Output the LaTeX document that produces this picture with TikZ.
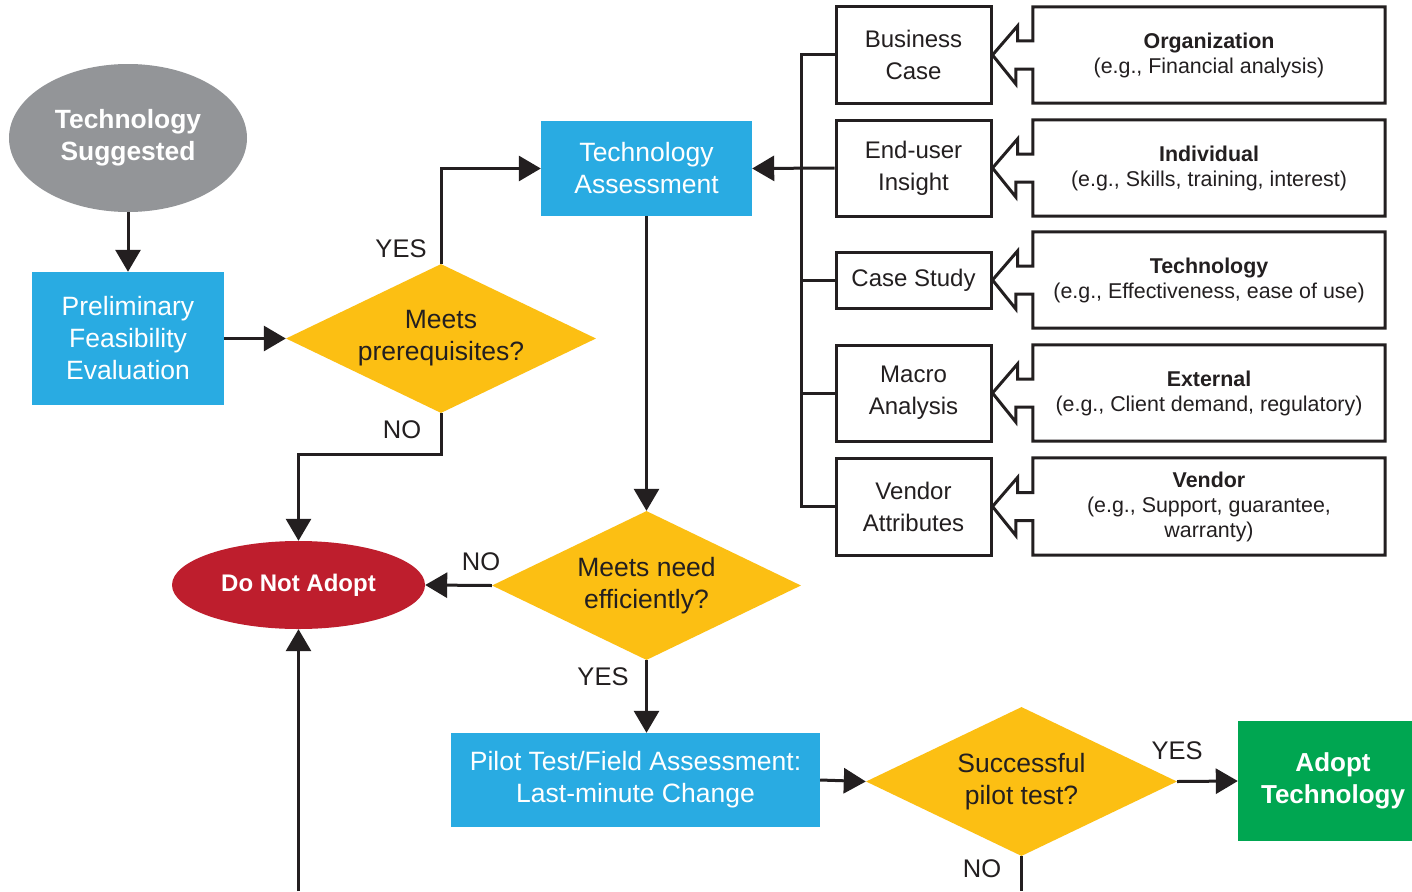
\documentclass[tikz,border=0pt]{standalone}
\usepackage{fontspec}
\setmainfont{Liberation Sans}
\usetikzlibrary{shapes.geometric,arrows.meta,calc}
\definecolor{tgray}{HTML}{939598}
\definecolor{tblue}{HTML}{29ABE2}
\definecolor{tyel}{HTML}{FCBF13}
\definecolor{tred}{HTML}{BE1E2D}
\definecolor{tgreen}{HTML}{00A651}
\definecolor{tdark}{HTML}{231F20}
\begin{document}
\begin{tikzpicture}[x=1pt,y=-1pt,
  bigfont/.style={font=\fontsize{26.5}{32}\selectfont},
  bluebox/.style={rectangle, fill=tblue, text=white, bigfont, align=center, inner sep=0pt},
  dia/.style={diamond, fill=tyel, text=tdark, bigfont, align=center, inner sep=0pt, minimum width=310pt, minimum height=149pt, shape aspect=2.08},
  sbox/.style={rectangle, draw=tdark, line width=3pt, text=tdark, align=center, inner sep=0pt, minimum width=155pt, minimum height=96pt, font=\fontsize{24}{32}\selectfont},
  rbox/.style={rectangle, text=tdark, align=center, inner sep=0pt, minimum width=352pt, minimum height=96pt, font=\fontsize{21.4}{25}\selectfont},
  outl/.style={draw=tdark, line width=3pt, line join=miter},
  conn/.style={draw=tdark, line width=3pt},
  arr/.style={conn, -{Triangle[length=22pt,width=25pt]}},
  lbl/.style={text=tdark, inner sep=0pt, font=\fontsize{25.5}{30}\selectfont}
]
\clip (0,0) rectangle (1412,891);
\fill[white] (0,0) rectangle (1412,891);

% left column
\node[ellipse, fill=tgray, text=white, inner sep=0pt, minimum width=238pt, minimum height=148pt, align=center, font=\bfseries\fontsize{26.4}{32}\selectfont] (ts) at (128,138) {Technology\\Suggested};
\node[bluebox, minimum width=192pt, minimum height=133pt] (pfe) at (128,338.5) {Preliminary\\Feasibility\\Evaluation};
\node[dia] (d1) at (441,338.5) {Meets\\prerequisites?};
\node[ellipse, fill=tred, text=white, inner sep=0pt, minimum width=253pt, minimum height=88pt, font=\bfseries\fontsize{24}{28}\selectfont] (dna) at (298.5,585) {Do Not Adopt};

% middle
\node[bluebox, minimum width=211pt, minimum height=95pt] (ta) at (646.5,168.5) {Technology\\Assessment};
\node[dia, minimum width=309pt] (d2) at (646.5,585.5) {Meets need\\efficiently?};
\node[bluebox, minimum width=369pt, minimum height=94pt] (pilot) at (635.5,780) {Pilot Test/Field Assessment:\\Last-minute Change};
\node[dia, minimum width=311pt] (d3) at (1021.5,781.5) {Successful\\pilot test?};
\node[rectangle, fill=tgreen, text=white, inner sep=0pt, minimum width=190pt, minimum height=120pt, align=center, font=\bfseries\fontsize{26}{32}\selectfont] (adopt) at (1333,781) {Adopt\\Technology};

% small boxes
\node[sbox] (bc) at (913.5,55) {Business\\Case};
\node[sbox] (eu) at (913.5,168) {End-user\\Insight};
\node[sbox, minimum height=56pt] (cs) at (913.5,280) {Case Study};
\node[sbox] (ma) at (913.5,393) {Macro\\Analysis};
\node[sbox, minimum height=97pt] (va) at (913.5,506.5) {Vendor\\Attributes};

% right boxes
\node[rbox] (org) at (1209,55) {\textbf{Organization}\\(e.g., Financial analysis)};
\node[rbox] (ind) at (1209,168) {\textbf{Individual}\\(e.g., Skills, training, interest)};
\node[rbox] (tec) at (1209,280) {\textbf{Technology}\\(e.g., Effectiveness, ease of use)};
\node[rbox] (ext) at (1209,393) {\textbf{External}\\(e.g., Client demand, regulatory)};
\node[rbox, minimum height=97pt] (ven) at (1209,506.5) {\textbf{Vendor}\\(e.g., Support, guarantee,\\warranty)};

% hollow arrow outlines
\foreach \r/\s in {org/bc, ind/eu, tec/cs, ext/ma, ven/va}{
  \draw[outl] ($(\r.west)+(0,-14)$) -- (\r.north west) -- (\r.north east) -- (\r.south east) -- (\r.south west) -- ($(\r.west)+(0,14)$) -- ++(-17,0) -- ++(0,15) -- (\s.east) -- ++(25,-29) -- ++(0,15) -- cycle;
}

% labels
\node[lbl] (yes1) at (401,249) {YES};
\node[lbl] (no1) at (402,430) {NO};
\node[lbl] (no2) at (481,562) {NO};
\node[lbl] (yes2) at (603,677) {YES};
\node[lbl] (yes3) at (1177,751) {YES};
\node[lbl] (no3) at (982,869) {NO};

\coordinate (bot1) at (298.5,891);
\coordinate (bot2) at (1021.5,891);

% connectors
\draw[arr] (ts.south) -- (pfe.north);
\draw[arr] (pfe.east) -- (d1.west);
\draw[arr] (d1.north) |- (ta.west);
\draw[arr] (d1.south) -- ++(0,41) -| (dna.north);
\draw[arr] (ta.south) -- (d2.north);
\draw[arr] (d2.west) -- (dna.east);
\draw[arr] (bot1) -- (dna.south);
\draw[arr] (d2.south) -- (pilot.north -| d2.south);
\draw[arr] (pilot.east) -- (d3.west);
\draw[arr] (d3.east) -- (adopt.west);
\draw[conn] (d3.south) -- (bot2);

% bus from evaluation boxes
\draw[conn] (bc.west) -- ++(-33,0) |- (va.west);
\draw[conn] (cs.west) -- ++(-33,0);
\draw[conn] (ma.west) -- ++(-33,0);
\draw[arr] (eu.west) -- (ta.east);
\end{tikzpicture}
\end{document}
